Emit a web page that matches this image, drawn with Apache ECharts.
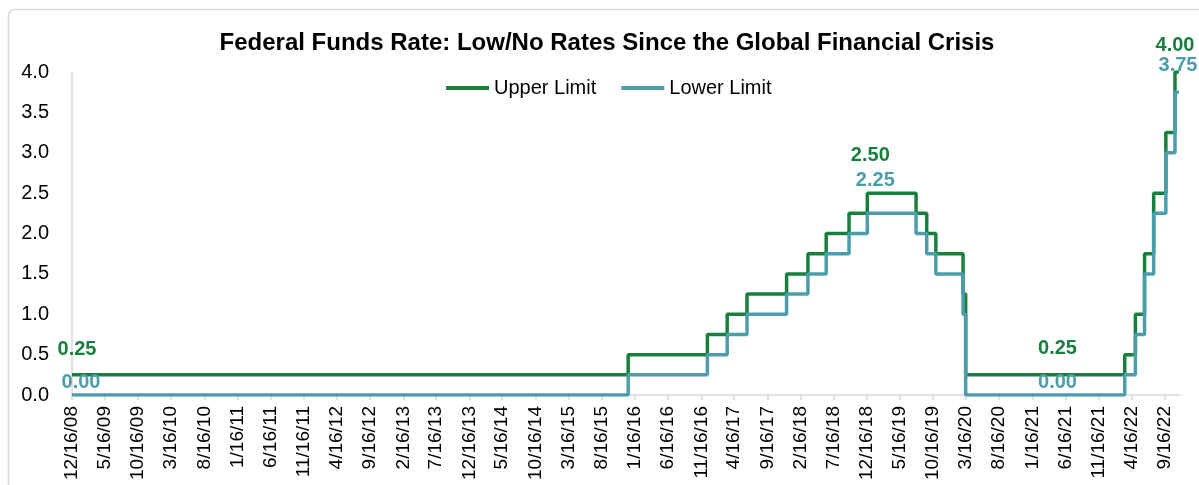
<!DOCTYPE html>
<html>
<head>
<meta charset="utf-8">
<script src="https://cdn.jsdelivr.net/npm/echarts@6/dist/echarts.min.js"></script>
<style>
  html, body { margin: 0; padding: 0; background: #fff; }
  #chart { width: 1199px; height: 485px; }
</style>
</head>
<body>
<div id="chart"></div>
<script>
// FOMC target range changes (date the new range took effect) and the range bounds
const changeDates = ['12/16/08', '12/16/15', '12/14/16', '3/15/17', '6/14/17', '12/13/17',
  '3/21/18', '6/13/18', '9/26/18', '12/19/18', '7/31/19', '9/18/19', '10/30/19',
  '3/3/20', '3/15/20', '3/16/22', '5/4/22', '6/15/22', '7/27/22', '9/21/22', '11/2/22', '11/20/22'];
const upperLimit = [0.25, 0.50, 0.75, 1.00, 1.25, 1.50, 1.75, 2.00, 2.25, 2.50, 2.25, 2.00, 1.75,
  1.25, 0.25, 0.50, 1.00, 1.75, 2.50, 3.25, 4.00, 4.00];
const lowerLimit = [0.00, 0.25, 0.50, 0.75, 1.00, 1.25, 1.50, 1.75, 2.00, 2.25, 2.00, 1.75, 1.50,
  1.00, 0.00, 0.25, 0.75, 1.50, 2.25, 3.00, 3.75, 3.75];

// Axis tick labels (every five months)
const tickLabels = ['12/16/08', '5/16/09', '10/16/09', '3/16/10', '8/16/10', '1/16/11', '6/16/11',
  '11/16/11', '4/16/12', '9/16/12', '2/16/13', '7/16/13', '12/16/13', '5/16/14', '10/16/14',
  '3/16/15', '8/16/15', '1/16/16', '6/16/16', '11/16/16', '4/16/17', '9/16/17', '2/16/18',
  '7/16/18', '12/16/18', '5/16/19', '10/16/19', '3/16/20', '8/16/20', '1/16/21', '6/16/21',
  '11/16/21', '4/16/22', '9/16/22'];

const GREEN = '#17803d';
const BLUE = '#4a9eab';
const FONT = 'Liberation Sans, Arial, sans-serif';

// dates are placed on a linear day scale (UTC milliseconds)
function ts(s) {
  const [m, d, y] = s.split('/').map(Number);
  return Date.UTC(2000 + y, m - 1, d);
}
function fmtDate(v) {
  const t = new Date(v);
  return (t.getUTCMonth() + 1) + '/' + t.getUTCDate() + '/' + String(t.getUTCFullYear()).slice(2);
}

const upperData = changeDates.map((d, i) => [ts(d), upperLimit[i]]);
const lowerData = changeDates.map((d, i) => [ts(d), lowerLimit[i]]);
const tickValues = tickLabels.map(ts);

function callout(dateStr, value, color, offset) {
  return {
    coord: [ts(dateStr), value],
    value: value,
    label: {
      show: true, position: 'inside', offset: offset,
      formatter: p => p.value.toFixed(2),
      color: color, fontFamily: FONT, fontWeight: 'bold', fontSize: 20
    }
  };
}
const iStart = 0;
const iPeak = changeDates.indexOf('12/19/18');
const iZero = changeDates.indexOf('3/15/20');
const iLast = changeDates.indexOf('11/2/22');

const chart = echarts.init(document.getElementById('chart'), null, { renderer: 'canvas' });
chart.setOption({
  animation: false,
  backgroundColor: '#fff',
  title: {
    text: 'Federal Funds Rate: Low/No Rates Since the Global Financial Crisis',
    left: 602, top: 26, textAlign: 'center',
    textStyle: { fontFamily: FONT, fontWeight: 'bold', fontSize: 24, color: '#000' }
  },
  legend: {
    data: ['Upper Limit', 'Lower Limit'],
    left: 441, top: 73,
    icon: 'rect',
    itemWidth: 43, itemHeight: 4, itemGap: 25,
    textStyle: { fontFamily: FONT, fontSize: 20, color: '#000' }
  },
  graphic: [{
    type: 'rect', silent: true, z: -1,
    shape: { x: 8.5, y: 9.5, width: 1300, height: 600, r: 6 },
    style: { fill: 'none', stroke: '#d9d9d9', lineWidth: 1.5 }
  }],
  grid: { left: 72, right: 19, top: 72, bottom: 90 },
  xAxis: {
    type: 'value',
    min: ts('12/16/08'), max: ts('11/25/22'),
    axisLine: { lineStyle: { color: '#d9d9d9', width: 1.5 } },
    axisTick: { show: true, customValues: tickValues, length: 5, lineStyle: { color: '#d9d9d9', width: 1.5 } },
    axisLabel: {
      customValues: tickValues, rotate: 90, margin: 11,
      formatter: v => fmtDate(v),
      fontFamily: FONT, fontSize: 19, color: '#000'
    },
    splitLine: { show: false }
  },
  yAxis: {
    type: 'value', min: 0, max: 4, interval: 0.5,
    axisLine: { show: true, lineStyle: { color: '#d9d9d9', width: 1.5 } },
    axisTick: { show: false },
    axisLabel: {
      margin: 23,
      formatter: v => v.toFixed(1),
      fontFamily: FONT, fontSize: 20, color: '#000'
    },
    splitLine: { show: false }
  },
  series: [
    {
      name: 'Upper Limit', type: 'line', step: 'end', data: upperData,
      symbol: 'none', color: GREEN,
      itemStyle: { color: GREEN },
      lineStyle: { color: GREEN, width: 3.5 },
      markPoint: {
        symbol: 'circle', symbolSize: 1, itemStyle: { color: 'rgba(0,0,0,0)' },
        data: [
          callout(changeDates[iStart], upperLimit[iStart], GREEN, [5, -25]),
          callout(changeDates[iPeak], upperLimit[iPeak], GREEN, [3, -38]),
          callout('5/11/21', upperLimit[iZero], GREEN, [0, -26]),
          callout(changeDates[iLast], upperLimit[iLast], GREEN, [0, -27])
        ]
      }
    },
    {
      name: 'Lower Limit', type: 'line', step: 'end', data: lowerData,
      symbol: 'none', color: BLUE,
      itemStyle: { color: BLUE },
      lineStyle: { color: BLUE, width: 3.5 },
      markPoint: {
        symbol: 'circle', symbolSize: 1, itemStyle: { color: 'rgba(0,0,0,0)' },
        data: [
          callout(changeDates[iStart], lowerLimit[iStart], BLUE, [9, -13]),
          callout(changeDates[iPeak], lowerLimit[iPeak], BLUE, [8, -33]),
          callout('5/11/21', lowerLimit[iZero], BLUE, [0, -13]),
          callout(changeDates[iLast], lowerLimit[iLast], BLUE, [3, -27])
        ]
      }
    }
  ]
});
</script>
</body>
</html>
